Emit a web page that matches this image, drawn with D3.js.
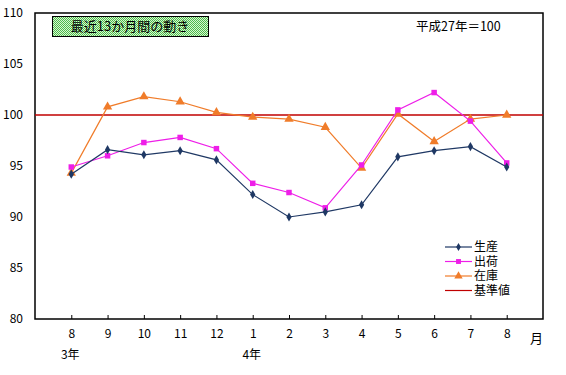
<!DOCTYPE html>
<html>
<head>
<meta charset="utf-8">
<script src="https://cdn.jsdelivr.net/npm/d3@7"></script>
<style>
  body { margin: 0; background: #fff; }
  text { font-family: "Noto Sans CJK JP", "DejaVu Sans", sans-serif; fill: #000; }
</style>
</head>
<body>
<div id="chart"></div>
<script>
// months shown on the x axis (R3/8 .. R4/8)
var months = ["8", "9", "10", "11", "12", "1", "2", "3", "4", "5", "6", "7", "8"];
var years = [{idx: 0, label: "3年"}, {idx: 5, label: "4年"}];

var seisan = [94.2, 96.6, 96.1, 96.5, 95.6, 92.2, 90.0, 90.5, 91.2, 95.9, 96.5, 96.9, 94.9];
var shukka = [94.9, 96.0, 97.3, 97.8, 96.7, 93.3, 92.4, 90.9, 95.1, 100.5, 102.2, 99.4, 95.3];
var zaiko  = [94.3, 100.8, 101.8, 101.3, 100.25, 99.8, 99.6, 98.8, 94.8, 100.1, 97.4, 99.6, 100.0];
var kijun = 100;
var yTicks = [80, 85, 90, 95, 100, 105, 110];

var W = 566, H = 375;
var margin = {top: 13, right: 23, bottom: 56, left: 35},
    width = W - margin.left - margin.right,
    height = H - margin.top - margin.bottom;

var svg = d3.select("#chart").append("svg")
    .attr("width", W)
    .attr("height", H);

var defs = svg.append("defs");
var pat = defs.append("pattern")
    .attr("id", "check")
    .attr("width", 2).attr("height", 2)
    .attr("patternUnits", "userSpaceOnUse");
pat.append("rect").attr("width", 2).attr("height", 2).attr("fill", "#d8f5d0");
pat.append("rect").attr("width", 1).attr("height", 1).attr("fill", "#4cbb4c");
pat.append("rect").attr("x", 1).attr("y", 1).attr("width", 1).attr("height", 1).attr("fill", "#4cbb4c");

var g = svg.append("g")
    .attr("transform", "translate(" + margin.left + "," + margin.top + ")");

var xScale = d3.scalePoint()
    .domain(d3.range(months.length))
    .range([0, width])
    .padding(1);

var yScale = d3.scaleLinear()
    .domain([80, 110])
    .range([height, 0]);

// frame
g.append("rect")
    .attr("width", width).attr("height", height)
    .attr("fill", "none").attr("stroke", "#000").attr("stroke-width", 1.5);

// x axis (ticks pointing up inside)
var xAxis = g.append("g")
    .attr("transform", "translate(0," + height + ")")
    .call(d3.axisBottom(xScale).tickSizeInner(-4).tickSizeOuter(0)
      .tickFormat(function(i) { return months[i]; }));
xAxis.select(".domain").remove();
xAxis.selectAll("line").attr("stroke", "#000");
xAxis.selectAll("text")
    .attr("y", 10).attr("font-size", 12)
    .style("font-family", "'Noto Sans CJK JP', sans-serif");

g.selectAll(".year")
    .data(years)
    .enter().append("text")
    .attr("class", "year")
    .attr("x", function(d) { return xScale(d.idx) - 1; })
    .attr("y", height + 40)
    .attr("text-anchor", "middle")
    .attr("font-size", 12)
    .text(function(d) { return d.label; });

g.append("text")
    .attr("x", width - 13)
    .attr("y", height + 24)
    .attr("font-size", 13)
    .text("月");

// y axis labels
var yAxis = g.append("g")
    .call(d3.axisLeft(yScale).tickValues(yTicks).tickSize(0).tickPadding(12));
yAxis.select(".domain").remove();
yAxis.selectAll("text")
    .attr("font-size", 12)
    .attr("fill", "#222")
    .style("font-family", "'Noto Sans CJK JP', sans-serif");

// reference line
g.append("line")
    .attr("x1", 0).attr("x2", width)
    .attr("y1", yScale(kijun)).attr("y2", yScale(kijun))
    .attr("stroke", "#c00000").attr("stroke-width", 1.3);

var series = [
  {name: "生産", values: seisan, color: "#1f3864", shape: d3.symbolDiamond, size: 24},
  {name: "出荷", values: shukka, color: "#ee1ee8", shape: d3.symbolSquare, size: 30},
  {name: "在庫", values: zaiko, color: "#f07c2a", shape: d3.symbolTriangle, size: 38}
];

var line = d3.line()
    .x(function(d, i) { return xScale(i); })
    .y(function(d) { return yScale(d); });

// draw in reverse so 生産 sits on top
series.slice().reverse().forEach(function(s) {
  g.append("path")
    .datum(s.values)
    .attr("fill", "none")
    .attr("stroke", s.color)
    .attr("stroke-width", 1.2)
    .attr("d", line);
  g.selectAll(null)
    .data(s.values)
    .enter().append("path")
    .attr("transform", function(d, i) { return "translate(" + xScale(i) + "," + yScale(d) + ")"; })
    .attr("d", d3.symbol().type(s.shape).size(s.size))
    .attr("fill", s.color);
});

// title box
svg.append("rect")
    .attr("x", 52.5).attr("y", 16.5).attr("width", 156).attr("height", 20)
    .attr("fill", "url(#check)").attr("stroke", "#000").attr("stroke-width", 1);
svg.append("text")
    .attr("x", 130).attr("y", 31)
    .attr("text-anchor", "middle")
    .attr("font-size", 13)
    .text("最近13か月間の動き");

svg.append("text")
    .attr("x", 416).attr("y", 31)
    .attr("font-size", 12.5)
    .text("平成27年＝100");

// legend
var legendItems = series.concat([{name: "基準値", color: "#c00000", shape: null}]);
var lg = svg.append("g").attr("transform", "translate(445,247)");
var item = lg.selectAll("g")
    .data(legendItems)
    .enter().append("g")
    .attr("transform", function(d, i) { return "translate(0," + (i * 14.5) + ")"; });
item.append("line")
    .attr("x1", 0).attr("x2", 27)
    .attr("stroke", function(d) { return d.color; })
    .attr("stroke-width", 1.2);
item.filter(function(d) { return d.shape; })
    .append("path")
    .attr("transform", "translate(13.5,0)")
    .attr("d", function(d) { return d3.symbol().type(d.shape).size(d.size * 0.8)(); })
    .attr("fill", function(d) { return d.color; });
item.append("text")
    .attr("x", 29)
    .attr("y", 4)
    .attr("font-size", 12)
    .text(function(d) { return d.name; });
</script>
</body>
</html>
